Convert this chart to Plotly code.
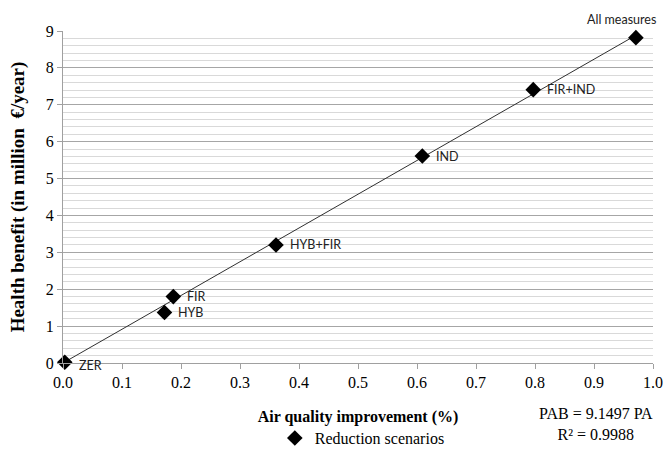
import plotly.graph_objects as go

scenarios = ["ZER", "HYB", "FIR", "HYB+FIR", "IND", "FIR+IND", "All measures"]
air_quality = [0.003, 0.172, 0.187, 0.361, 0.609, 0.797, 0.971]
health_benefit = [0.02, 1.37, 1.80, 3.20, 5.61, 7.41, 8.82]
slope = 9.1497
r2 = 0.9988

serif = "Liberation Serif"
tickserif = "Times New Roman, Liberation Serif, serif"
sans = "Lato"

fig = go.Figure()

# trend line through origin
x_end = max(air_quality)
fig.add_trace(go.Scatter(
    x=[0, x_end], y=[0, slope * x_end], mode="lines",
    line=dict(color="#303030", width=1), showlegend=False, hoverinfo="skip"))

fig.add_trace(go.Scatter(
    x=air_quality, y=health_benefit, mode="markers",
    marker=dict(symbol="diamond", size=12, color="black"),
    name="Reduction scenarios", cliponaxis=False))

for name, xv, yv in zip(scenarios, air_quality, health_benefit):
    if name == "All measures":
        fig.add_annotation(x=xv, y=yv, text=name, showarrow=False,
                           xanchor="center", yanchor="bottom", xshift=-14, yshift=9,
                           font=dict(family=sans, size=12.5, color="#222"))
    else:
        ys = -3 if name == "ZER" else 0
        fig.add_annotation(x=xv, y=yv, text=name, showarrow=False,
                           xanchor="left", yanchor="middle", xshift=12, yshift=ys,
                           font=dict(family=sans, size=12.5, color="#222"))

fig.add_annotation(xref="paper", yref="paper", x=0.904, y=-0.12,
                   text=f"PAB = {slope} PA<br>R² = {r2}", showarrow=False,
                   xanchor="center", yanchor="top", align="center",
                   font=dict(family=serif, size=16, color="black"))

fig.update_layout(
    width=663, height=453,
    font=dict(family=serif, size=15, color="black"),
    margin=dict(l=63, r=10, t=31, b=90, autoexpand=False),
    paper_bgcolor="white", plot_bgcolor="white",
    showlegend=True,
    legend=dict(orientation="h", x=0.359, y=-0.226, xanchor="left", yanchor="middle",
                font=dict(family=serif, size=16, color="black"),
                itemwidth=30, bgcolor="rgba(0,0,0,0)"),
    xaxis=dict(range=[0, 1], dtick=0.1, tickformat=".1f",
               showgrid=False, zeroline=False,
               showline=True, linecolor="#a0a0a0", linewidth=1,
               ticks="outside", ticklen=5, tickcolor="#a0a0a0",
               tickfont=dict(family=tickserif, size=16, color="black"),
               title=dict(text="<b>Air quality improvement (%)</b>", standoff=20,
                          font=dict(family=serif, size=16, color="black"))),
    yaxis=dict(range=[0, 9], dtick=1,
               showgrid=True, gridcolor="#a6a6a6", gridwidth=1,
               zeroline=False,
               showline=True, linecolor="#a0a0a0", linewidth=1,
               ticks="outside", ticklen=5, tickcolor="#a0a0a0",
               tickfont=dict(family=tickserif, size=16, color="black"),
               minor=dict(dtick=0.2, showgrid=True, gridcolor="#d9d9d9", gridwidth=1),
               title=dict(text="<b>Health benefit (in million  €/year)</b>", standoff=16,
                          font=dict(family=serif, size=19, color="black"))),
)

fig.write_html("out.html", config={"displayModeBar": False},
               post_script="document.body.style.margin='0px';")
